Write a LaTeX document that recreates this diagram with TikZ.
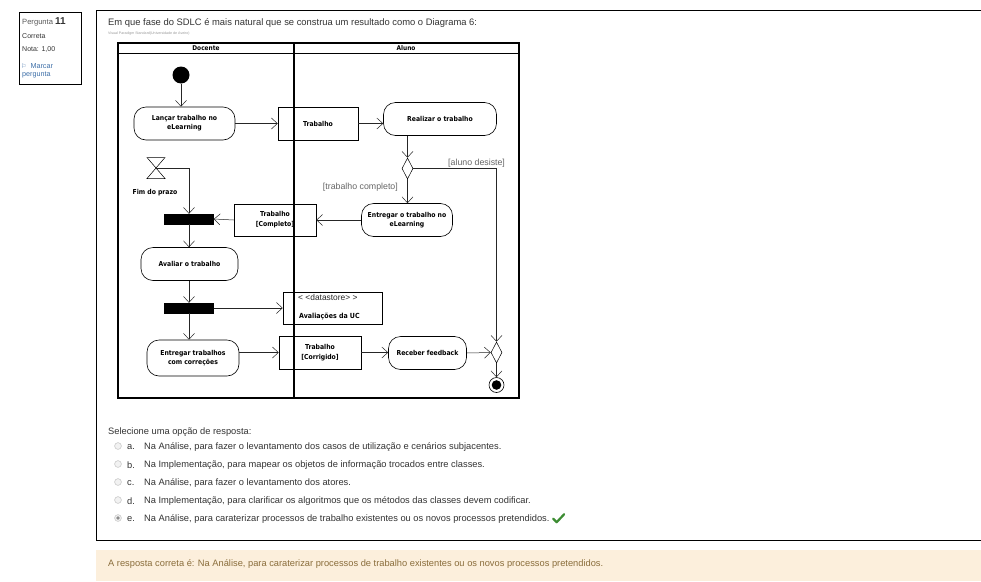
\documentclass[tikz,border=0pt]{standalone}
\usepackage{fontspec}
\setmainfont{Liberation Sans}
\newfontfamily\umlfont{DejaVu Sans Condensed}
\newfontfamily\symfont{DejaVu Sans}
\usetikzlibrary{arrows.meta,shapes.geometric}

\definecolor{ink}{HTML}{333333}
\definecolor{linkblue}{HTML}{3D6FA8}
\definecolor{feedbg}{HTML}{FCEFDC}
\definecolor{feedtext}{HTML}{8A6D3B}
\definecolor{okgreen}{HTML}{3C8C32}

\tikzset{
  txt/.style={inner sep=0pt, anchor=west, text=ink},
  body/.style={txt, yshift=-1.2pt, font=\fontsize{9.3}{11}\selectfont},
  act/.style={draw=black, line width=0.6pt, rounded corners=12pt, align=center,
    inner sep=0pt, font=\umlfont\bfseries\fontsize{6.8}{9}\selectfont},
  obj/.style={draw=black, line width=0.5pt, align=center, inner sep=0pt,
    font=\umlfont\bfseries\fontsize{6.8}{10}\selectfont},
  syncbar/.style={fill=black, draw=black, minimum width=49pt, minimum height=10pt, inner sep=0pt},
  choice/.style={diamond, draw=black, line width=0.5pt, inner sep=0pt,
    minimum width=11pt, minimum height=21pt},
  flow/.style={draw=black!85, line width=0.5pt, -{Straight Barb[length=6pt,width=11pt]}},
  guard/.style={inner sep=0pt, text=black!60, font=\fontsize{8.8}{10}\selectfont},
  lane/.style={line width=1.6pt},
  radio/.style={draw=black!25, fill=black!5, line width=0.5pt},
}

\begin{document}
\begin{tikzpicture}[x=1pt,y=-1pt]
\useasboundingbox[fill=white] (0,0) rectangle (981,581);

% question info box
\draw[line width=0.7pt] (19,12) rectangle (81,84);
\node[txt, text=black!65, font=\fontsize{7.6}{8}\selectfont] (qnum) at (22,22)
  {Pergunta \textcolor{ink}{\fontsize{10}{10}\selectfont\bfseries 11}};
\node[txt, font=\fontsize{7}{8}\selectfont] (qstate) at (22,36) {Correta};
\node[txt, font=\fontsize{7}{8}\selectfont] (qgrade) at (22,50) {Nota: 1,00};
\node[txt, text=linkblue, font=\fontsize{7.2}{8}\selectfont] (qflag) at (21,66)
  {{\symfont\fontsize{6}{8}\selectfont ⚐}\ \ Marcar};
\node[txt, text=linkblue, font=\fontsize{7.2}{8}\selectfont] (qflag2) at (22,75) {pergunta};

% question frame
\draw[line width=0.8pt] (981,10) -- (96,10) -- (96,540) -- (981,540);
\node[txt, yshift=-0.8pt, font=\fontsize{9.4}{11}\selectfont] (qtext) at (108,22)
  {Em que fase do SDLC é mais natural que se construa um resultado como o Diagrama 6:};
\node[txt, text=black!40, font=\fontsize{3.6}{4}\selectfont] (credit) at (108,34)
  {Visual Paradigm Standard(Universidade de Aveiro)};

% swimlanes
\draw[lane] (118,43) rectangle (519,398);
\draw[lane] (118,53.5) -- (519,53.5);
\draw[lane] (294,43) -- (294,398);
\node[inner sep=0pt, font=\umlfont\bfseries\fontsize{6.5}{8}\selectfont] (laneA) at (206,48) {Docente};
\node[inner sep=0pt, font=\umlfont\bfseries\fontsize{6.5}{8}\selectfont] (laneB) at (406,48) {Aluno};

% activity nodes
\node[circle, fill=black, minimum size=17pt, inner sep=0pt] (start) at (181,75) {};
\node[act, minimum width=101pt, minimum height=33pt] (lancar) at (184.5,123.5) {Lançar trabalho no\\eLearning};
\node[obj, minimum width=80pt, minimum height=33pt] (trab) at (318,123.5) {Trabalho};
\node[act, minimum width=113pt, minimum height=33pt] (realizar) at (440,119) {Realizar o trabalho};
\node[choice] (dec) at (407.5,168.5) {};
\node[guard, anchor=west] (gdesiste) at (448,163) {[aluno desiste]};
\node[guard, anchor=east] (gcompleto) at (398,187) {[trabalho completo]};
\node[act, minimum width=91pt, minimum height=33pt] (entregar) at (407,220) {Entregar o trabalho no\\eLearning};
\node[obj, minimum width=82pt, minimum height=32pt] (trabcomp) at (275,220) {Trabalho\\{[}Completo{]}};

% time event
\coordinate (hg) at (156,168);
\draw[line width=0.5pt] (hg) ++(-9,-10.5) -- ++(18,0) -- ++(-18,21) -- ++(18,0) -- cycle;
\node[inner sep=0pt, font=\umlfont\bfseries\fontsize{6.8}{8}\selectfont] (prazo) at (155,193) {Fim do prazo};

\node[syncbar] (bar1) at (189,219) {};
\node[act, minimum width=97pt, minimum height=33pt] (avaliar) at (189.5,264) {Avaliar o trabalho};
\node[syncbar] (bar2) at (189,308) {};
\node[obj, minimum width=99pt, minimum height=32pt] (store) at (332.5,308) {};
\node[txt, text=black!85, font=\fontsize{8.4}{9}\selectfont] (storetag) at (298,297) {< <datastore> >};
\node[txt, text=black, font=\umlfont\bfseries\fontsize{7}{8}\selectfont] (storename) at (299,316) {Avaliações da UC};
\node[act, minimum width=92pt, minimum height=36pt] (entregar2) at (193,358) {Entregar trabalhos\\com correções};
\node[obj, minimum width=82pt, minimum height=33pt] (trabcorr) at (320,352.5) {Trabalho\\{[}Corrigido{]}};
\node[act, minimum width=78pt, minimum height=33pt] (receber) at (427.5,353) {Receber feedback};
\node[choice] (merge) at (496.5,352.5) {};
\node[circle, draw=black, line width=0.6pt, minimum size=15pt, inner sep=0pt] (finish) at (496.5,385) {};
\fill (finish.center) circle (4.8pt);

% control and object flows
\draw[flow] (start) -- (start |- lancar.north);
\draw[flow] (lancar.east) -- (trab.west);
\draw[flow] (trab.east) -- (realizar.west |- trab.east);
\draw[flow] (dec |- realizar.south) -- (dec.north);
\draw[flow] (dec.south) -- (dec.south |- entregar.north);
\draw[flow] (dec.east) -| (merge.north);
\draw[flow] (entregar.west) -- (trabcomp.east);
\draw[flow] (trabcomp.west) -- (bar1.east);
\draw[flow] (hg) -| (bar1.north);
\draw[flow] (bar1.south) -- (avaliar.north -| bar1.south);
\draw[flow] (avaliar.south -| bar2.north) -- (bar2.north);
\draw[flow] (bar2.east) -- (store.west);
\draw[flow] (bar2.south) -- (bar2.south |- entregar2.north);
\draw[flow] (entregar2.east |- trabcorr.west) -- (trabcorr.west);
\draw[flow] (trabcorr.east) -- (receber.west |- trabcorr.east);
\draw[flow] (receber.east) -- (merge.west);
\draw[flow] (merge.south) -- (finish.north);

% answer options
\node[body] (prompt) at (108,431) {Selecione uma opção de resposta:};
\foreach \y/\l/\t [count=\i] in {
  446/a./{Na Análise, para fazer o levantamento dos casos de utilização e cenários subjacentes.},
  464/b./{Na Implementação, para mapear os objetos de informação trocados entre classes.},
  482/c./{Na Análise, para fazer o levantamento dos atores.},
  500/d./{Na Implementação, para clarificar os algoritmos que os métodos das classes devem codificar.},
  518/e./{Na Análise, para caraterizar processos de trabalho existentes ou os novos processos pretendidos.}} {
  \draw[radio] (118,\y) circle (3.4pt);
  \node[body] (optl\i) at (127,\y) {\l};
  \node[body] (opt\i) at (144,\y) {\t};
}
\fill[black!45] (118,518) circle (1.8pt);
\coordinate (tick) at ([xshift=2pt]opt5.east);
\draw[okgreen, line width=2.2pt, line cap=round, line join=round]
  ([xshift=1.5pt,yshift=0.5pt]tick) -- ++(3.5,3.5) -- ++(7.5,-8);

% feedback
\fill[feedbg] (96,550) rectangle (981,581);
\node[body, text=feedtext] (feedback) at (108,563)
  {A resposta correta é: Na Análise, para caraterizar processos de trabalho existentes ou os novos processos pretendidos.};
\end{tikzpicture}
\end{document}
